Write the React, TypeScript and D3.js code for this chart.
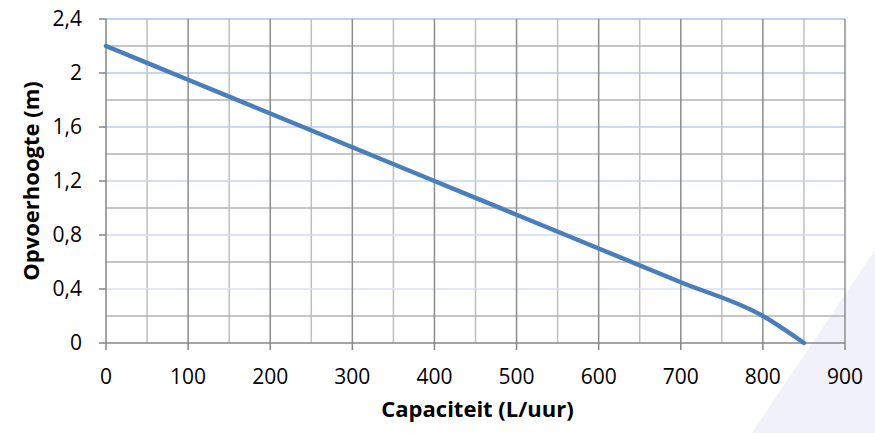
import React from "react";
import * as d3 from "d3";

const capacity = [0, 100, 200, 300, 400, 500, 600, 700, 800, 850];
const head = [2.2, 1.95, 1.7, 1.45, 1.2, 0.95, 0.7, 0.45, 0.2, 0];
const xTicks = [0, 100, 200, 300, 400, 500, 600, 700, 800, 900];
const xMinor = [50, 150, 250, 350, 450, 550, 650, 750, 850];
const yTicks = [0, 0.4, 0.8, 1.2, 1.6, 2.0, 2.4];
const yMinor = [0.2, 0.6, 1.0, 1.4, 1.8, 2.2];
const xTitle = "Capaciteit (L/uur)";
const yTitle = "Opvoerhoogte (m)";

const W = 875, H = 433;
const L = 106, R = 845, T = 19, B = 343;
const FONT = "'Open Sans', sans-serif";

export default function App() {
  const x = d3.scaleLinear().domain([0, 900]).range([L, R]);
  const y = d3.scaleLinear().domain([0, 2.4]).range([B, T]);
  const line = d3
    .line<number>()
    .x((_, i) => x(capacity[i]))
    .y((d) => y(d))
    .curve(d3.curveMonotoneX);
  const fmt = (v: number) => (Math.round(v * 10) / 10).toString().replace(".", ",");

  return (
    <svg width={W} height={H} style={{ position: "absolute", left: 0, top: 0, background: "#fff" }}>
      <defs>
        <linearGradient id="gblue" gradientUnits="userSpaceOnUse" x1="0" y1={T} x2="0" y2={B}>
          <stop offset="0" stopColor="#a7c2ea" />
          <stop offset="1" stopColor="#e0e7f6" />
        </linearGradient>
      </defs>
      <polygon points="875,250 875,433 752,433" fill="#f0f1f9" />
      {xMinor.map((v) => (
        <line key={"xm" + v} x1={x(v)} x2={x(v)} y1={T} y2={B} stroke="#bfbfbf" strokeWidth={1.5} />
      ))}
      {yMinor.map((v) => (
        <line key={"ym" + v} x1={L} x2={R} y1={y(v)} y2={y(v)} stroke="#b3b3b3" strokeWidth={1.5} />
      ))}
      {yTicks.filter((v) => v > 0).map((v) => (
        <line key={"yM" + v} x1={L} x2={R} y1={y(v)} y2={y(v)} stroke="url(#gblue)" strokeWidth={1.5} />
      ))}
      {xTicks.filter((v) => v > 0).map((v) => (
        <line key={"xM" + v} x1={x(v)} x2={x(v)} y1={T} y2={B} stroke="#8c8c8c" strokeWidth={1.5} />
      ))}
      <line x1={L} x2={L} y1={T} y2={B} stroke="#868686" strokeWidth={1.5} />
      <line x1={L} x2={R} y1={B} y2={B} stroke="#868686" strokeWidth={1.5} />
      {yTicks.map((v) => (
        <line key={"yt" + v} x1={L - 7} x2={L} y1={y(v)} y2={y(v)} stroke="#868686" strokeWidth={1.5} />
      ))}
      {xTicks.map((v) => (
        <line key={"xt" + v} x1={x(v)} x2={x(v)} y1={B} y2={B + 7} stroke="#868686" strokeWidth={1.5} />
      ))}
      <path d={line(head) || ""} fill="none" stroke="#4a7ebb" strokeWidth={4.5} strokeLinecap="round" />
      {yTicks.map((v) => (
        <text key={"yl" + v} x={82} y={y(v)} dy="0.35em" textAnchor="end" fontFamily={FONT} fontSize={21} fill="#000">
          {fmt(v)}
        </text>
      ))}
      {xTicks.map((v) => (
        <text key={"xl" + v} x={x(v)} y={377} dy="0.35em" textAnchor="middle" fontFamily={FONT} fontSize={21} fill="#000">
          {v}
        </text>
      ))}
      <text x={(L + R) / 2 + 2} y={409} dy="0.35em" textAnchor="middle" fontFamily={FONT} fontSize={22} fontWeight="bold" fill="#000">
        {xTitle}
      </text>
      <text transform={`translate(31,${(T + B) / 2}) rotate(-90)`} dy="0.35em" textAnchor="middle" fontFamily={FONT} fontSize={22} fontWeight="bold" fill="#000">
        {yTitle}
      </text>
    </svg>
  );
}
